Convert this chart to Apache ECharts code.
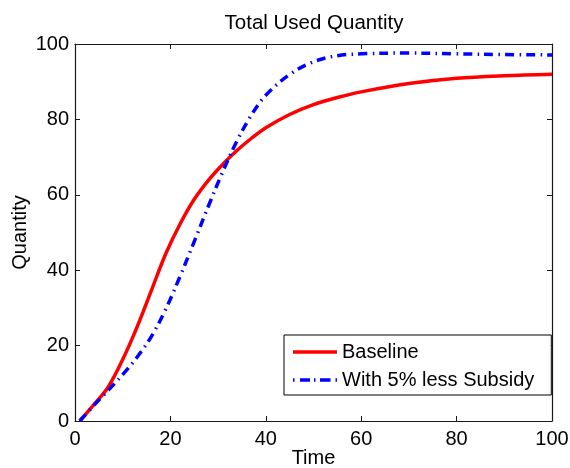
<!DOCTYPE html>
<html>
<head>
<meta charset="utf-8">
<script src="https://cdn.jsdelivr.net/npm/echarts@6/dist/echarts.min.js"></script>
<style>
html,body{margin:0;padding:0;background:#fff;}
#chart{width:570px;height:468px;}
</style>
</head>
<body>
<div id="chart"></div>
<script>
const time = [1, 4, 7, 10, 13, 16, 19, 22, 25, 28, 31, 34, 37, 40, 45, 50, 55, 60, 70, 80, 90, 100];
const baseline = [0, 4.4, 9.1, 16.3, 24.9, 34.6, 44.3, 52.2, 58.8, 63.9, 68.1, 71.8, 75.0, 77.8, 81.3, 83.9, 85.8, 87.3, 89.5, 90.9, 91.6, 92.0];
const lessSubsidy = [0, 4.2, 8.2, 12.3, 16.9, 22.4, 29.6, 38.3, 47.6, 57.1, 66.2, 74.4, 81.2, 86.4, 91.9, 95.3, 96.9, 97.4, 97.6, 97.4, 97.2, 97.1];
const xTicks = [0, 20, 40, 60, 80, 100];
const yTicks = [0, 20, 40, 60, 80, 100];
const seriesNames = ['Baseline', 'With 5% less Subsidy'];
const titleText = 'Total Used Quantity';
const xName = 'Time';
const yName = 'Quantity';

const pair = (xs, ys) => xs.map((x, i) => [x, ys[i]]);
const font = 'Liberation Sans, Arial, Helvetica, sans-serif';
const axisColor = '#1a1a1a';

const chart = echarts.init(document.getElementById('chart'), null, {renderer: 'canvas'});
const baseAxis = {
  type: 'value', min: xTicks[0], max: xTicks[xTicks.length - 1], interval: 20,
  axisLine: {show: true, onZero: false, lineStyle: {color: axisColor, width: 1.2}},
  axisTick: {show: true, inside: true, length: 5, lineStyle: {color: axisColor}},
  splitLine: {show: false},
  axisLabel: {color: '#000', fontSize: 20, fontFamily: font},
};
chart.setOption({
  animation: false,
  backgroundColor: '#fff',
  title: {
    text: titleText, left: 309, top: 8, textAlign: 'center',
    textStyle: {fontSize: 20.5, fontWeight: 'normal', color: '#000', fontFamily: font}
  },
  grid: {left: 75, right: 18, top: 44, bottom: 47, containLabel: false, outerBoundsMode: 'none'},
  legend: {
    orient: 'vertical', left: 284, top: 335,
    data: [
      {name: seriesNames[0], icon: 'path://M0,0h44v3.5h-44z'},
      {name: seriesNames[1], icon: 'path://M0,0h1.5v3.5h-1.5z M7,0h10v3.5h-10z M21,0h1.5v3.5h-1.5z M27,0h10.5v3.5h-10.5z M42.5,0h1.5v3.5h-1.5z'}
    ],
    backgroundColor: '#fff', borderColor: '#000', borderWidth: 1,
    padding: [7, 17, 5, 9], itemGap: 8, itemWidth: 44, itemHeight: 3.5,
    textStyle: {fontSize: 20, color: '#000', fontFamily: font, lineHeight: 20}
  },
  xAxis: [
    Object.assign({}, baseAxis, {position: 'bottom', name: xName, nameLocation: 'middle', nameGap: 27, nameMoveOverlap: false,
      nameTextStyle: {fontSize: 20, color: '#000', fontFamily: font},
      axisLabel: Object.assign({}, baseAxis.axisLabel, {margin: 8})}),
    Object.assign({}, baseAxis, {position: 'top', axisLabel: {show: false}})
  ],
  yAxis: [
    Object.assign({}, baseAxis, {min: yTicks[0], max: yTicks[yTicks.length - 1], position: 'left', name: yName, nameLocation: 'middle', nameGap: 45, nameMoveOverlap: false,
      nameTextStyle: {fontSize: 20, color: '#000', fontFamily: font},
      axisLabel: Object.assign({}, baseAxis.axisLabel, {margin: 6})}),
    Object.assign({}, baseAxis, {min: yTicks[0], max: yTicks[yTicks.length - 1], position: 'right', axisLabel: {show: false}})
  ],
  series: [
    {
      name: seriesNames[0], type: 'line', xAxisIndex: 0, yAxisIndex: 0,
      data: pair(time, baseline), smooth: 0.35, showSymbol: false, symbol: 'none',
      lineStyle: {color: '#ff0000', width: 3.5},
      itemStyle: {color: '#ff0000'}
    },
    {
      name: seriesNames[1], type: 'line', xAxisIndex: 0, yAxisIndex: 0,
      data: pair(time, lessSubsidy), smooth: 0.35, showSymbol: false, symbol: 'none',
      lineStyle: {color: '#0000ff', width: 3.5, type: [9, 5.5, 1.5, 5]},
      itemStyle: {color: '#0000ff'}
    }
  ]
});
</script>
</body>
</html>
